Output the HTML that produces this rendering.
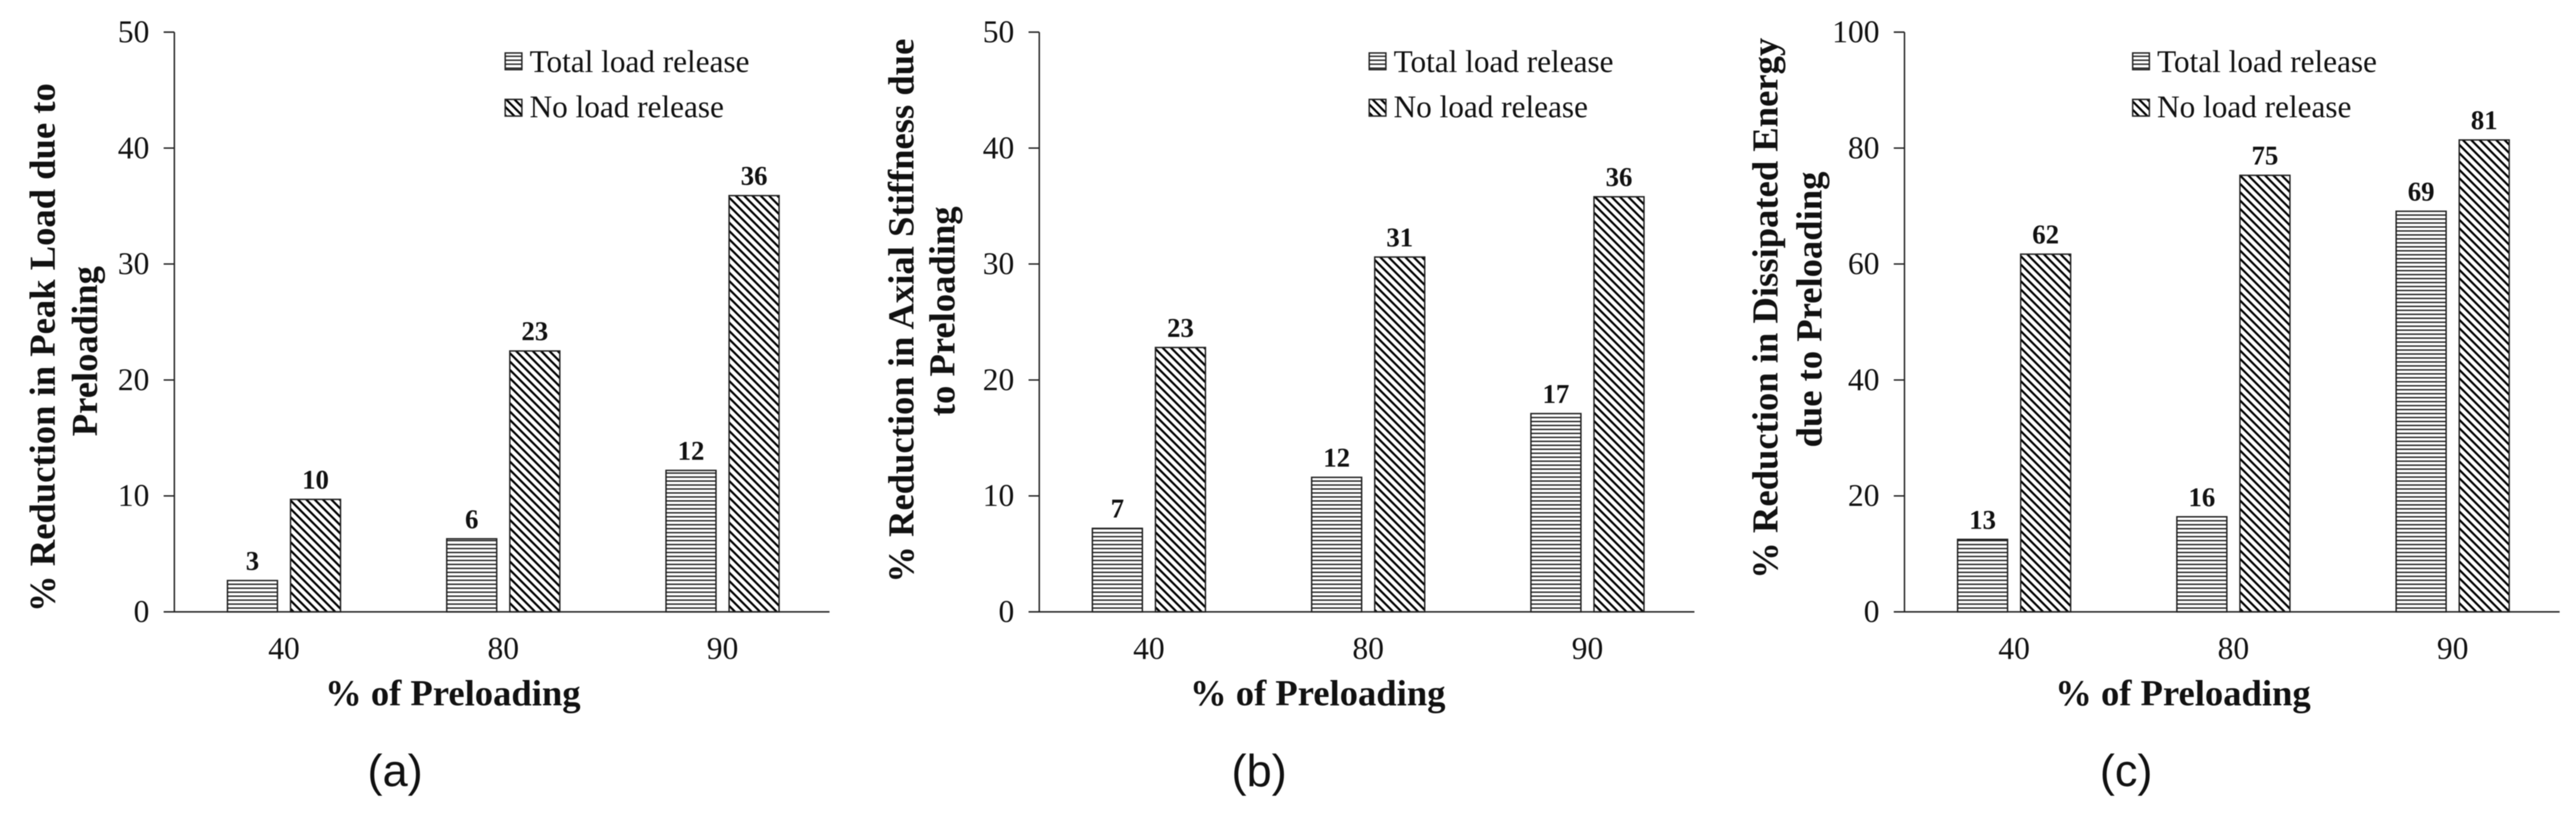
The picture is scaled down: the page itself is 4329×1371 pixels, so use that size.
<!DOCTYPE html>
<html lang="en">
<head>
<meta charset="utf-8">
<title>Reduction due to preloading</title>
<style>
html,body{margin:0;padding:0;background:#fff;}
body{width:4329px;height:1371px;overflow:hidden;}
svg{display:block;filter:blur(0.7px);}
text{font-family:"Liberation Serif",serif;fill:#111;}
</style>
</head>
<body>
<svg id="chart" xmlns="http://www.w3.org/2000/svg" width="4329" height="1371" viewBox="0 0 4329 1371">
<defs>
<pattern id="hatch-horizontal" patternUnits="userSpaceOnUse" width="20" height="6.67"><rect width="20" height="6.67" fill="#fff"/><rect y="0" width="20" height="2.3" fill="#222"/></pattern>
<pattern id="hatch-diagonal" patternUnits="userSpaceOnUse" width="9.9" height="9.9" patternTransform="rotate(45)"><rect width="9.9" height="9.9" fill="#fff"/><rect y="0" width="9.9" height="3.6" fill="#000"/></pattern>
</defs>
</svg>
<script>
var categories = ["40", "80", "90"];
var legendLabels = ["Total load release", "No load release"];
var xAxisTitle = "% of Preloading";

var ticksA = [0, 10, 20, 30, 40, 50];
var totalA = [2.7, 6.3, 12.2];
var noneA = [9.7, 22.5, 35.9];
var printedTotalA = ["3", "6", "12"];
var printedNoneA = ["10", "23", "36"];
var titleLinesA = ["% Reduction in Peak Load due to", "Preloading"];

var ticksB = [0, 10, 20, 30, 40, 50];
var totalB = [7.2, 11.6, 17.1];
var noneB = [22.8, 30.6, 35.8];
var printedTotalB = ["7", "12", "17"];
var printedNoneB = ["23", "31", "36"];
var titleLinesB = ["% Reduction in Axial Stiffness due", "to Preloading"];

var ticksC = [0, 20, 40, 60, 80, 100];
var totalC = [12.5, 16.4, 69.1];
var noneC = [61.7, 75.3, 81.4];
var printedTotalC = ["13", "16", "69"];
var printedNoneC = ["62", "75", "81"];
var titleLinesC = ["% Reduction in Dissipated Energy", "due to Preloading"];

var svg = document.getElementById('chart');
var NS = 'http://www.w3.org/2000/svg';
var BASE_Y = 1028, TOP_Y = 54, STEP = 368.5, BAR_W = 84, BAR_OFF = 11;

function make(tag, attrs, parent) {
  var el = document.createElementNS(NS, tag);
  for (var k in attrs) { el.setAttribute(k, attrs[k]); }
  (parent || svg).appendChild(el);
  return el;
}

function drawPanel(p) {
  var maxV = p.ticks[p.ticks.length - 1];
  function yScale(v) { return BASE_Y - (v / maxV) * (BASE_Y - TOP_Y); }
  function xScale(i) { return p.axisX + STEP * (i + 0.5); }

  var g = make('g', {});
  
  

  p.ticks.forEach(function (t) {
    var tick = make('line', { x1: p.axisX - 18, x2: p.axisX, y1: yScale(t), y2: yScale(t), stroke: '#222', 'stroke-width': 2.4 }, g);
    
    
    var lab = make('text', { x: p.axisX - 42, y: yScale(t) + 17, 'text-anchor': 'end', 'font-size': 53 }, g);
    lab.textContent = t;
    
    
  });

  categories.forEach(function (c, i) {
    var cx = xScale(i);
    var v1 = p.total[i], v2 = p.none[i];

    var b1 = make('rect', { x: cx - BAR_OFF - BAR_W, y: yScale(v1), width: BAR_W, height: BASE_Y - yScale(v1), fill: 'url(#hatch-horizontal)', stroke: '#222', 'stroke-width': 2.4 }, g);
    
    

    var b2 = make('rect', { x: cx + BAR_OFF, y: yScale(v2), width: BAR_W, height: BASE_Y - yScale(v2), fill: 'url(#hatch-diagonal)', stroke: '#222', 'stroke-width': 2.4 }, g);
    
    

    var l1 = make('text', { x: cx - BAR_OFF - BAR_W / 2, y: yScale(v1) - 18, 'text-anchor': 'middle', 'font-size': 45, 'font-weight': 'bold' }, g);
    l1.textContent = p.printedTotal[i];
    
    

    var l2 = make('text', { x: cx + BAR_OFF + BAR_W / 2, y: yScale(v2) - 18, 'text-anchor': 'middle', 'font-size': 45, 'font-weight': 'bold' }, g);
    l2.textContent = p.printedNone[i];
    
    

    var xl = make('text', { x: cx, y: 1107, 'text-anchor': 'middle', 'font-size': 53 }, g);
    xl.textContent = c;
    
    
  });

  var yAxis = make('line', { x1: p.axisX, x2: p.axisX, y1: TOP_Y, y2: BASE_Y, stroke: '#222', 'stroke-width': 2.4 }, g);
  
  

  var xAxis = make('line', { x1: p.axisX, x2: p.axisX + 1101, y1: BASE_Y, y2: BASE_Y, stroke: '#222', 'stroke-width': 2.4 }, g);
  
  

  var xt = make('text', { x: p.axisX + 468, y: 1185, 'text-anchor': 'middle', 'font-size': 61.5, 'font-weight': 'bold' }, g);
  xt.textContent = xAxisTitle;
  
  

  p.titleLines.forEach(function (line, i) {
    var t = make('text', { transform: 'translate(' + p.titleX[i] + ',' + p.titleY[i] + ') rotate(-90)', 'text-anchor': 'middle', 'font-size': 61.5, 'font-weight': 'bold' }, g);
    t.textContent = line;
    
    
  });

  var fills = ['url(#hatch-horizontal)', 'url(#hatch-diagonal)'];
  var swY = [89, 167], textY = [121, 197];
  legendLabels.forEach(function (label, i) {
    var sw = make('rect', { x: p.legendX, y: swY[i], width: 28, height: 28, fill: fills[i], stroke: '#222', 'stroke-width': 2.4 }, g);
    
    
    var tx = make('text', { x: p.legendX + 41, y: textY[i], 'font-size': 52.5 }, g);
    tx.textContent = label;
    
    
  });

  var cap = make('text', { x: p.captionX, y: 1321, 'text-anchor': 'middle', 'font-size': 76 }, g);
  cap.style.fontFamily = '"Liberation Sans",sans-serif';
  cap.textContent = '(' + p.id + ')';
  
  
}

drawPanel({ id: 'a', axisX: 293, ticks: ticksA, total: totalA, none: noneA, printedTotal: printedTotalA, printedNone: printedNoneA, titleLines: titleLinesA, titleX: [92, 163], titleY: [584, 590], legendX: 849, captionX: 664 });
drawPanel({ id: 'b', axisX: 1746.5, ticks: ticksB, total: totalB, none: noneB, printedTotal: printedTotalB, printedNone: printedNoneB, titleLines: titleLinesB, titleX: [1535, 1604], titleY: [522, 523], legendX: 2301, captionX: 2116 });
drawPanel({ id: 'c', axisX: 3200.5, ticks: ticksC, total: totalC, none: noneC, printedTotal: printedTotalC, printedNone: printedNoneC, titleLines: titleLinesC, titleX: [2987, 3061], titleY: [518, 520], legendX: 3584, captionX: 3573 });
</script>
</body>
</html>
